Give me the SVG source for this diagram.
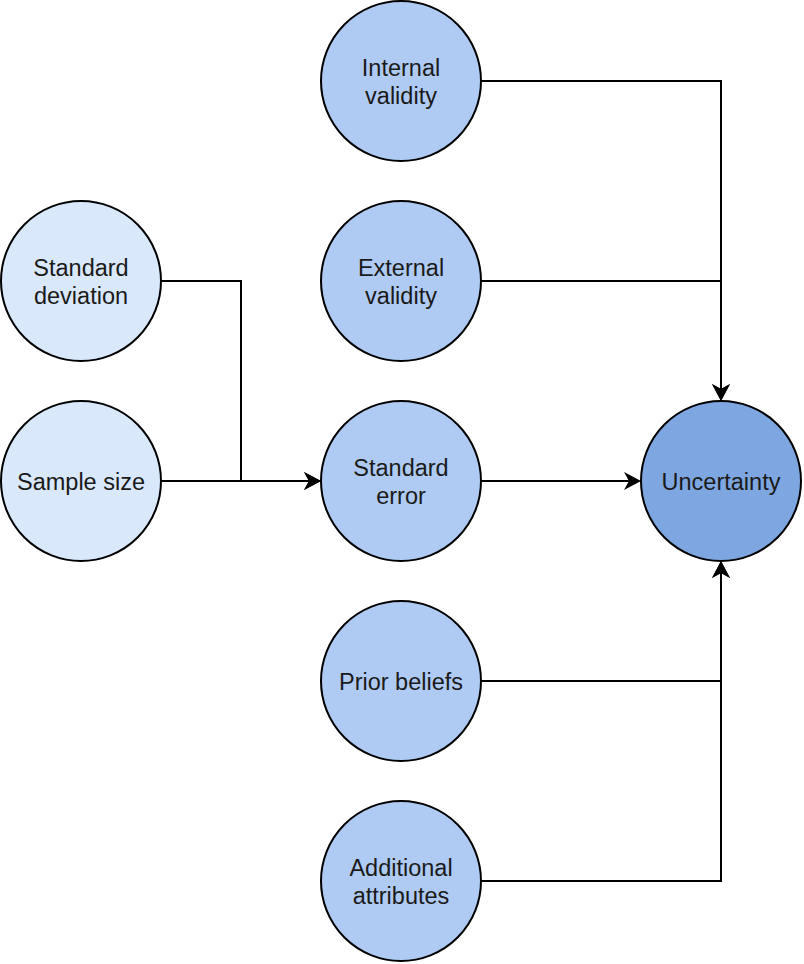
<svg xmlns="http://www.w3.org/2000/svg" width="804" height="964" viewBox="0 0 804 964">
<style>
.n circle{stroke:#000;stroke-width:2}
.light{fill:#dae8fc}
.mid{fill:#b0cbf3}
.dark{fill:#7ea6e0}
.n text{font-family:"Liberation Sans",Arial,Helvetica,sans-serif;font-size:23.5px;fill:#1a1a1a;text-anchor:middle}
.e path{fill:none;stroke:#000;stroke-width:2}
</style>
<defs>
<marker id="arr" markerUnits="userSpaceOnUse" viewBox="0 0 17 18" markerWidth="17" markerHeight="18" refX="5" refY="9" orient="auto">
<path d="M0,0 L17,9 L0,18 L5,9 Z" fill="#000"/>
</marker>
</defs>
<rect width="804" height="964" fill="#fff"/>
<g id="connectors" class="e">
<path d="M481,81 H721 V389" marker-end="url(#arr)"/>
<path d="M481,281 H721 V389" marker-end="url(#arr)"/>
<path d="M161,281 H241 V481 H309" marker-end="url(#arr)"/>
<path d="M161,481 H309" marker-end="url(#arr)"/>
<path d="M481,481 H629" marker-end="url(#arr)"/>
<path d="M481,681 H721 V573" marker-end="url(#arr)"/>
<path d="M481,881 H721 V573" marker-end="url(#arr)"/>
</g>
<g id="internal-validity" class="n"><circle class="mid" cx="401" cy="81" r="80"/><text x="401" y="76">Internal</text><text x="401" y="104">validity</text></g>
<g id="external-validity" class="n"><circle class="mid" cx="401" cy="281" r="80"/><text x="401" y="276">External</text><text x="401" y="304">validity</text></g>
<g id="standard-deviation" class="n"><circle class="light" cx="81" cy="281" r="80"/><text x="81" y="276">Standard</text><text x="81" y="304">deviation</text></g>
<g id="sample-size" class="n"><circle class="light" cx="81" cy="481" r="80"/><text x="81" y="489.5">Sample size</text></g>
<g id="standard-error" class="n"><circle class="mid" cx="401" cy="481" r="80"/><text x="401" y="476">Standard</text><text x="401" y="504">error</text></g>
<g id="uncertainty" class="n"><circle class="dark" cx="721" cy="481" r="80"/><text x="721" y="489.5">Uncertainty</text></g>
<g id="prior-beliefs" class="n"><circle class="mid" cx="401" cy="681" r="80"/><text x="401" y="689.5">Prior beliefs</text></g>
<g id="additional-attributes" class="n"><circle class="mid" cx="401" cy="881" r="80"/><text x="401" y="876">Additional</text><text x="401" y="904">attributes</text></g>
</svg>
